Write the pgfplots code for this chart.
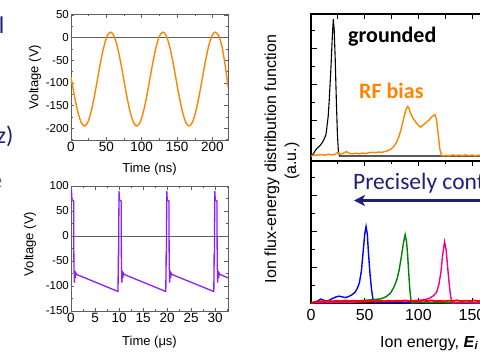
\documentclass[border=0pt]{standalone}
\usepackage{fontspec}
\setmainfont{Liberation Sans}
\newfontfamily\carlito{Carlito}
\usepackage{pgfplots}
\pgfplotsset{compat=1.18}
\usetikzlibrary{arrows.meta}
\definecolor{navy}{RGB}{30,30,125}
\definecolor{myorange}{RGB}{255,133,0}
\definecolor{mypurple}{RGB}{140,30,255}
\definecolor{framegray}{RGB}{95,95,95}
\pgfplotsset{
  leftax/.style={scale only axis, anchor=south west,
    axis line style={framegray, line width=0.6pt},
    every tick/.style={framegray, line width=0.5pt},
    tick align=inside, major tick length=3.5pt, minor tick length=2pt,
    xticklabel style={font=\fontsize{13.5}{15}\selectfont, inner sep=2pt},
    yticklabel style={font=\fontsize{11.5}{13}\selectfont, inner sep=2pt},
    /pgf/number format/assume math mode=true,
    clip=true},
  rightax/.style={scale only axis, anchor=south west,
    axis line style={black, line width=1.1pt},
    every tick/.style={black, line width=0.7pt},
    tick align=inside, major tick length=5.5pt, minor tick length=3.5pt,
    ticklabel style={font=\fontsize{16}{18}\selectfont},
    xticklabel style={yshift=-3pt},
    /pgf/number format/assume math mode=true,
    xmin=0, xmax=200, ytick={0.2,0.4,0.6}, minor ytick={0.1,0.3,0.5,0.7},
    yticklabels={}, ytick pos=left}
}
\begin{document}
\begin{tikzpicture}[x=1pt,y=1pt]
\clip (0,0) rectangle (480,360);
\fill[white] (0,0) rectangle (480,360);

% ---------- top-left: RF sine ----------
\begin{axis}[leftax, at={(71pt,220pt)}, width=157pt, height=126pt,
  xmin=0, xmax=222, ymin=-226, ymax=52,
  xtick={0,50,...,200}, minor xtick={25,75,...,225},
  ytick={-200,-150,...,50}, minor ytick={-225,-175,...,25}]
\addplot[framegray, line width=0.6pt] coordinates {(0,0) (222,0)};
\addplot[myorange, line width=1.4pt, smooth] coordinates {
(0,-87) (5.125,-131.1) (9.75,-164.7) (14.375,-187.1) (19,-195)
(23.625,-187.1) (28.25,-164.7) (32.875,-131.1) (37.5,-91.5) (42.125,-51.9)
(46.75,-18.3) (51.375,4.1) (56,12) (60.625,4.1) (65.25,-18.3)
(69.875,-51.9) (74.5,-91.5) (79.125,-131.1) (83.75,-164.7) (88.375,-187.1)
(93,-195) (97.625,-187.1) (102.25,-164.7) (106.875,-131.1) (111.5,-91.5)
(116.125,-51.9) (120.75,-18.3) (125.375,4.1) (130,12) (134.625,4.1)
(139.25,-18.3) (143.875,-51.9) (148.5,-91.5) (153.125,-131.1) (157.75,-164.7)
(162.375,-187.1) (167,-195) (171.625,-187.1) (176.25,-164.7) (180.875,-131.1)
(185.5,-91.5) (190.125,-51.9) (194.75,-18.3) (199.375,4.1) (204,12)
(208.625,4.1) (213.25,-18.3) (217.875,-60) (222.5,-112)};
\end{axis}

% ---------- bottom-left: pulsed bias ----------
\begin{axis}[leftax, at={(71pt,49pt)}, width=157pt, height=125pt,
  xmin=0, xmax=32.7, ymin=-150, ymax=100,
  xtick={0,5,...,30}, minor xtick={2.5,7.5,...,32.5},
  ytick={-150,-100,...,100}, minor ytick={-125,-75,...,75}]
\addplot[framegray, line width=0.6pt] coordinates {(0,0) (32.7,0)};
\addplot[mypurple, line width=1.3pt] coordinates {
(0,88) (0.1,90) (0.2,72) (0.55,70) (0.6,-50) (0.7,-93) (0.8,-70) (0.9,-84) (1.0,-74) (1.2,-77)
(9.8,-111) (9.85,-38) (9.9,-60) (10.0,90)
(10.1,72) (10.45,70) (10.5,-50) (10.6,-93) (10.7,-70) (10.8,-84) (10.9,-74) (11.1,-77)
(19.75,-111) (19.8,-38) (19.85,-60) (19.95,90)
(20.05,72) (20.4,70) (20.45,-50) (20.55,-93) (20.65,-70) (20.75,-84) (20.85,-74) (21.05,-77)
(29.75,-111) (29.8,-38) (29.85,-60) (29.95,90)
(30.05,72) (30.4,70) (30.45,-50) (30.55,-93) (30.65,-70) (30.75,-84) (30.85,-74) (31.05,-77)
(32.8,-84)};
\end{axis}

% ---------- top-right: IEDF grounded / RF ----------
\begin{axis}[rightax, at={(311pt,199pt)}, width=214.7pt, height=147pt,
  ymin=-0.028, ymax=0.789,
  xtick={0,25,...,200}, xticklabels={}, xtick pos=upper]
\addplot[black, line width=1.1pt] coordinates {
(0,0) (2,0.01) (4,0.03) (6,0.045) (8,0.055) (10,0.07) (12,0.09) (14,0.12) (16,0.22)
(17,0.31) (18.5,0.48) (20,0.68) (20.8,0.76) (21.6,0.7) (22.5,0.55) (23.6,0.31)
(24.6,0.12) (25.5,0.03) (26.5,0) (60,0) (120,0) (200,0)};
\addplot[myorange, line width=1.4pt] coordinates {
(0,0) (3,0.005) (6,0.005) (10,0.008) (13,0.004) (16,0.01) (19,0.006) (22,0.008)
(25,0.02) (27,0.008) (30,0.015) (33,0.024) (36,0.014) (39,0.012) (42,0.015)
(45,0.012) (48,0.016) (51,0.014) (54,0.018) (57,0.02) (60,0.018) (63,0.022)
(66,0.02) (69,0.025) (72,0.03) (75,0.04) (78,0.06) (80,0.08) (82,0.11) (84,0.15)
(86,0.2) (88,0.25) (90,0.275) (91,0.27) (92.5,0.24) (95,0.21) (98,0.185)
(101,0.165) (102,0.16) (104,0.17) (107,0.185) (110,0.2) (112,0.215) (114,0.225)
(115.5,0.23) (117,0.2) (118.5,0.12) (120,0.04) (121.5,0.005) (123,0) (126,0.004)
(129,0) (132,0.006) (135,0.002) (138,0.005) (141,0.001) (144,0.006) (147,0.002)
(150,0.005) (153,0) (156,0.004) (160,0.002) (170,0.004) (180,0.002) (190,0.003) (200,0.002)};
\end{axis}

% ---------- bottom-right: IEDF pulsed ----------
\begin{axis}[rightax, at={(311pt,57pt)}, width=214.7pt, height=142pt,
  ymin=0, ymax=0.789,
  xtick={0,50,...,200}, minor xtick={25,75,...,175}, xtick pos=both, xticklabel pos=lower]
\addplot[blue, line width=1.4pt] coordinates {
(0,0) (3,0.005) (6,0.01) (9,0.022) (11,0.018) (14,0.01) (17,0.015) (20,0.025)
(23,0.033) (26,0.038) (29,0.034) (32,0.03) (35,0.036) (38,0.045) (41,0.06)
(43,0.08) (45,0.11) (47,0.18) (48.5,0.28) (50,0.38) (51.3,0.425) (52.5,0.38)
(53.5,0.28) (55,0.16) (56.5,0.07) (58,0.01) (60,0) (65,0.005) (70,0) (80,0.004)
(90,0) (120,0.003) (160,0) (200,0)};
\addplot[black!50!green, line width=1.4pt] coordinates {
(0,0.002) (10,0.003) (20,0.005) (30,0.008) (40,0.01) (50,0.015) (60,0.02)
(65,0.023) (70,0.035) (74,0.055) (77,0.085) (80,0.13) (82,0.18) (84,0.25)
(86,0.33) (87.7,0.38) (89,0.34) (90,0.27) (91,0.17) (92,0.08) (93,0.02)
(94,0) (100,0.003) (140,0) (200,0)};
\addplot[magenta, line width=1.4pt] coordinates {
(0,0.001) (20,0.003) (40,0.005) (60,0.008) (80,0.01) (90,0.012) (100,0.015)
(105,0.018) (110,0.025) (114,0.04) (117,0.06) (119,0.1) (121,0.17) (122.5,0.26)
(124.4,0.34) (125.8,0.3) (127,0.22) (128.5,0.12) (130,0.04) (131.5,0) (140,0.003) (200,0)};
\addplot[red, line width=1.8pt] coordinates {
(0,0) (4,0.006) (8,0.01) (12,0.008) (16,0.012) (20,0.009) (24,0.013) (28,0.01)
(32,0.014) (36,0.011) (40,0.013) (44,0.01) (48,0.012) (52,0.009) (56,0.012)
(60,0.01) (64,0.013) (68,0.009) (72,0.012) (76,0.01) (80,0.013) (84,0.011)
(88,0.014) (92,0.01) (96,0.012) (100,0.009) (104,0.013) (108,0.011) (112,0.014)
(116,0.01) (120,0.012) (124,0.009) (128,0.013) (132,0.011) (136,0.015) (140,0.01)
(144,0.013) (148,0.011) (152,0.014) (156,0.01) (160,0.012) (170,0.011) (180,0.013)
(190,0.01) (200,0.012)};
\end{axis}

% ---------- labels ----------
\node[rotate=90, font=\fontsize{13}{15}\selectfont] at (35,283) {Voltage (V)};
\node[font=\fontsize{13}{15}\selectfont] at (149.5,191) {Time (ns)};
\node[rotate=90, font=\fontsize{13}{15}\selectfont] at (30,116) {Voltage (V)};
\node[font=\fontsize{13}{15}\selectfont] at (149.5,18) {Time (μs)};

\node[rotate=90, font=\fontsize{16}{18}\selectfont] at (272,201) {Ion flux-energy distribution function};
\node[rotate=90, font=\fontsize{16}{18}\selectfont] at (292,199) {(a.u.)};
\node[anchor=base west, inner sep=0, font=\fontsize{16}{18}\selectfont] at (380,13) {Ion energy, \textbf{\textit{E}}\textsubscript{\textbf{\textit{i}}}};

\node[anchor=base west, inner sep=0, font=\carlito\bfseries\fontsize{22}{26}\selectfont] at (348,318) {grounded};
\node[anchor=base west, inner sep=0, text=myorange, font=\carlito\bfseries\fontsize{22}{26}\selectfont] at (359,262) {RF bias};
\node[anchor=base west, inner sep=0, text=navy, font=\carlito\fontsize{23.5}{27}\selectfont] at (353,171) {Precisely controlled};
\draw[navy, line width=2.6pt, -{Stealth[length=11pt, width=11pt, inset=3pt]}] (495,159.5) -- (354,159.5);

% cropped slide text on the left edge
\node[anchor=base east, inner sep=0, text=navy, font=\carlito\fontsize{24}{28}\selectfont] at (4.5,327) {control};
\node[anchor=base east, inner sep=0, text=navy, font=\carlito\fontsize{24}{28}\selectfont] at (13.5,217) {kHz)};
\node[anchor=base east, inner sep=0, text=navy!70, font=\carlito\fontsize{24}{28}\selectfont] at (2.5,172) {pulse};
\end{tikzpicture}
\end{document}
